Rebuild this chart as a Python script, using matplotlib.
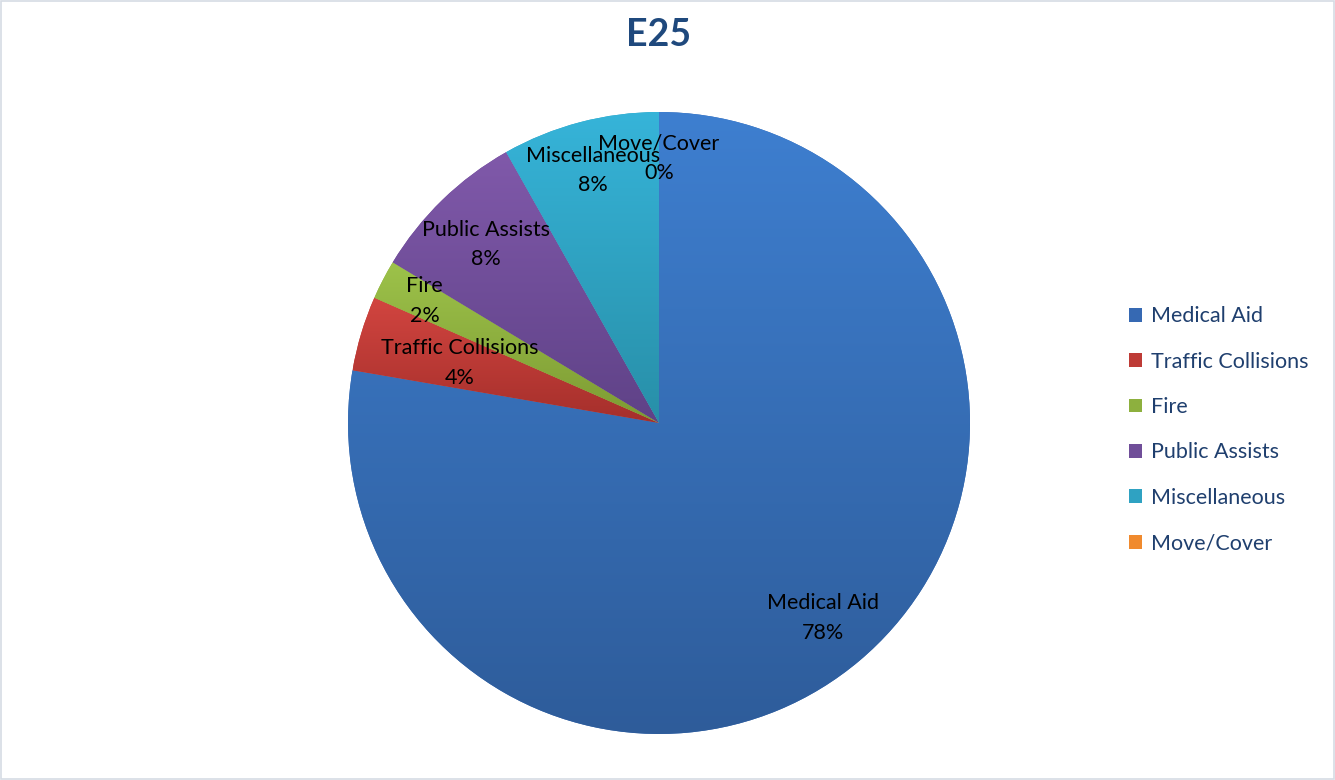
import matplotlib
matplotlib.use("Agg")
import matplotlib.pyplot as plt
import numpy as np
from matplotlib.patches import Patch, Rectangle
from matplotlib.colors import to_rgb

# Dados do gráfico
categorias = ["Medical Aid", "Traffic Collisions", "Fire", "Public Assists", "Miscellaneous", "Move/Cover"]
valores = [380, 19, 10, 40, 40, 0]
rotulos_pct = ["78%", "4%", "2%", "8%", "8%", "0%"]

# Cores (topo, base) de cada fatia, simulando o gradiente do Excel
cores_topo = ["#3E7FD0", "#D24540", "#9DC24A", "#8059AA", "#36B4D9", "#F79646"]
cores_base = ["#2E5C9A", "#A52F2B", "#7D9B33", "#5F4287", "#288FA8", "#D97A20"]
cores_legenda = ["#3669B3", "#BE3B36", "#8DB03E", "#704E99", "#2FA2C2", "#F08A2E"]
dist_rotulos = [0.82, 0.67, 0.85, 0.80, 0.84, 0.85]

plt.rcParams["font.family"] = ["Lato", "DejaVu Sans"]

fig = plt.figure(figsize=(13.35, 7.8), dpi=100)
ax = fig.add_axes([0.2607, 0.059, 0.4659, 0.7974])

wedges, _ = ax.pie(valores, startangle=90, counterclock=False, radius=1.0,
                   colors=cores_legenda, wedgeprops=dict(linewidth=0))

# Gradiente vertical recortado em cada fatia
for w, c1, c2 in zip(wedges, cores_topo, cores_base):
    if w.theta2 - w.theta1 <= 0:
        continue
    v = w.get_path().vertices
    x0, x1 = v[:, 0].min(), v[:, 0].max()
    y0, y1 = v[:, 1].min(), v[:, 1].max()
    t = np.linspace(0, 1, 256)[:, None]
    grad = (1 - t) * np.array(to_rgb(c1)) + t * np.array(to_rgb(c2))
    img = ax.imshow(grad[:, None, :].repeat(2, axis=1), extent=[x0, x1, y0, y1],
                    origin="upper", aspect="auto", zorder=w.get_zorder() + 0.1)
    img.set_clip_path(w)

ax.set_xlim(-1, 1)
ax.set_ylim(-1, 1)
ax.set_aspect("equal")

# Rótulos de dados
for w, cat, pct, d in zip(wedges, categorias, rotulos_pct, dist_rotulos):
    ang = np.deg2rad((w.theta1 + w.theta2) / 2)
    ax.text(d * np.cos(ang), d * np.sin(ang), f"{cat}\n{pct}", ha="center", va="center",
            fontsize=15.5, color="black", linespacing=1.6, zorder=10)

fig.text(0.4936, 0.955, "E25", ha="center", va="center", fontsize=27,
         fontweight="bold", color="#1F497D")

handles = [Patch(facecolor=c, edgecolor="none") for c in cores_legenda]
fig.legend(handles, categorias, loc="center left", bbox_to_anchor=(0.831, 0.449),
           frameon=False, fontsize=15.5, labelcolor="#1F3F6E", handlelength=0.6,
           handleheight=0.6, handletextpad=0.45, labelspacing=1.18)

fig.patches.append(Rectangle((0.0005, 0.0008), 0.999, 0.998, transform=fig.transFigure,
                             fill=False, edgecolor="#D5DCE4", linewidth=1.2))

fig.savefig("out.png", dpi=100)
